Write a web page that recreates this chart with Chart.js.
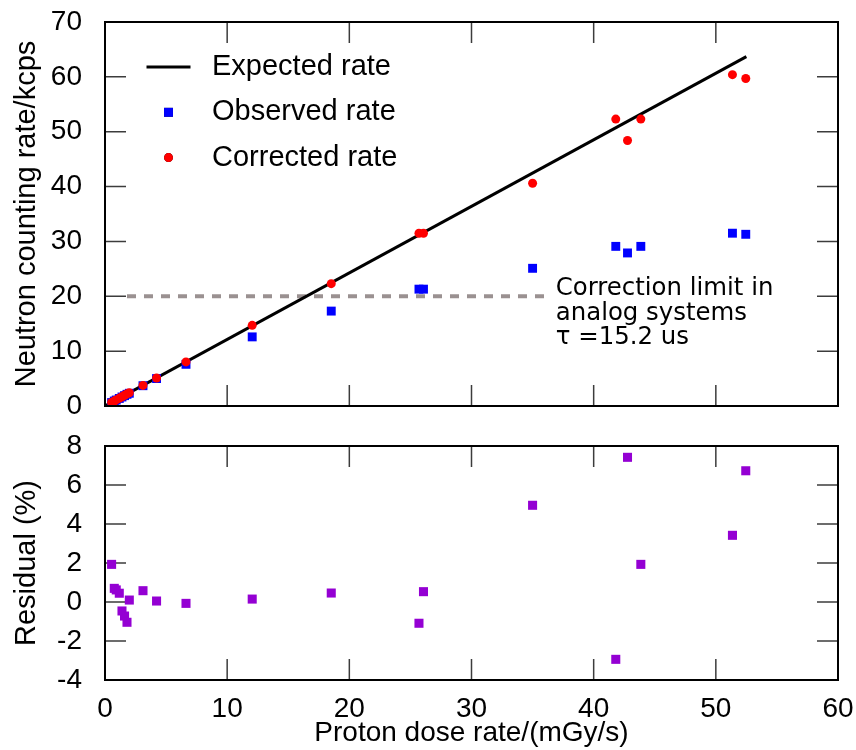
<!DOCTYPE html>
<html>
<head>
<meta charset="utf-8">
<script src="https://cdn.jsdelivr.net/npm/chart.js@4.4.1/dist/chart.umd.min.js"></script>
<style>
body { margin: 0; background: #fff; }
#wrap { position: relative; width: 856px; height: 750px; }
#wrap canvas { position: absolute; left: 0; top: 0; }
</style>
</head>
<body>
<div id="wrap">
  <canvas id="residual" width="856" height="750"></canvas>
  <canvas id="rate" width="856" height="750"></canvas>
</div>
<script>
// values
var doseRate      = [0.54, 0.76, 0.92, 1.17, 1.39, 1.60, 1.80, 1.99, 3.11, 4.22, 6.63, 12.05, 18.52, 25.70, 26.07, 35.0, 41.81, 42.77, 43.86, 51.36, 52.45];
var observedRate  = [0.63, 0.90, 1.09, 1.38, 1.64, 1.89, 2.13, 2.32, 3.7, 5.0, 7.6, 12.6, 17.3, 21.3, 21.3, 25.1, 29.1, 27.9, 29.1, 31.5, 31.3];
var correctedRate = [0.64, 0.91, 1.11, 1.41, 1.69, 1.95, 2.20, 2.41, 3.75, 5.11, 8.04, 14.7, 22.3, 31.5, 31.5, 40.6, 52.3, 48.4, 52.3, 60.4, 59.7];
var residual      = [1.93, 0.70, 0.62, 0.45, -0.46, -0.72, -1.04, 0.10, 0.58, 0.05, -0.07, 0.15, 0.46, -1.09, 0.53, 4.96, -2.94, 7.42, 1.93, 3.42, 6.73];

var expectedX = [0, 52.5];
var expectedY = [0, 63.7];
var limitX = [1.8, 36.2];
var limitY = [20, 20];

var noteLines = ['Correction limit in', 'analog systems', '\u03c4 =15.2 us'];

var axisFont = { family: 'Liberation Sans', size: 28 };
var titleFont = { family: 'Liberation Sans', size: 29 };

function pts(xs, ys) {
    return xs.map(function (x, i) { return { x: x, y: ys[i] }; });
}

// gnuplot style: inward ticks on all four sides
var inTicks = {
    id: 'inTicks',
    beforeDatasetsDraw: function (chart) {
        var a = chart.chartArea, c = chart.ctx;
        var sx = chart.scales.x, sy = chart.scales.y;
        c.save();
        c.strokeStyle = '#3c3c3c';
        c.lineWidth = 1.5;
        c.beginPath();
        sx.ticks.forEach(function (t) {
            var px = sx.getPixelForValue(t.value);
            c.moveTo(px, a.bottom); c.lineTo(px, a.bottom - 21);
            c.moveTo(px, a.top); c.lineTo(px, a.top + 21);
        });
        sy.ticks.forEach(function (t) {
            var py = sy.getPixelForValue(t.value);
            c.moveTo(a.left, py); c.lineTo(a.left + 21, py);
            c.moveTo(a.right, py); c.lineTo(a.right - 21, py);
        });
        c.stroke();
        c.restore();
    },
    afterDraw: function (chart) {
        var a = chart.chartArea, c = chart.ctx;
        c.save();
        c.strokeStyle = '#000';
        c.lineWidth = 2;
        c.strokeRect(a.left, a.top, a.right - a.left, a.bottom - a.top);
        c.restore();
    }
};

var keyBox = {
    id: 'keyBox',
    afterDraw: function (chart) {
        var a = chart.chartArea, c = chart.ctx;
        c.save();
        c.font = '29px "Liberation Sans"';
        c.textBaseline = 'middle';
        c.fillStyle = '#000';
        for (var i = 0; i < 3; i++) {
            var ds = chart.data.datasets[i];
            var cy = a.top + 45 + i * 45.3;
            var cx = a.left + 63.5;
            if (ds.showLine) {
                c.strokeStyle = ds.borderColor;
                c.lineWidth = ds.borderWidth;
                c.beginPath(); c.moveTo(cx - 22, cy); c.lineTo(cx + 22, cy); c.stroke();
            } else {
                Chart.helpers.drawPoint(c, {
                    pointStyle: ds.pointStyle, radius: ds.pointRadius,
                    borderWidth: 0, rotation: 0
                }, cx, cy);
                c.fillStyle = ds.backgroundColor;
                c.fill();
            }
            c.fillStyle = '#000';
            c.fillText(ds.label, a.left + 107, cy);
        }
        // note next to the dashed limit line
        var sx = chart.scales.x, sy = chart.scales.y;
        var nx = sx.getPixelForValue(36.9), ny = sy.getPixelForValue(20);
        c.font = '24.4px "DejaVu Sans"';
        c.textBaseline = 'alphabetic';
        noteLines.forEach(function (s, k) {
            c.fillText(s, nx, ny - 1 + k * 24.3);
        });
        c.restore();
    }
};

var rateChart = new Chart(document.getElementById('rate'), {
    type: 'scatter',
    data: {
        datasets: [{
            label: 'Expected rate',
            data: pts(expectedX, expectedY),
            showLine: true,
            borderColor: '#000',
            borderWidth: 3,
            pointRadius: 0,
            order: 2
        }, {
            label: 'Observed rate',
            data: pts(doseRate, observedRate),
            pointStyle: 'rect',
            pointRadius: 6.3,
            pointBorderWidth: 0,
            backgroundColor: '#0000ff',
            order: 1
        }, {
            label: 'Corrected rate',
            data: pts(doseRate, correctedRate),
            pointStyle: 'circle',
            pointRadius: 4.5,
            pointBorderWidth: 0,
            backgroundColor: '#ff0000',
            order: 0
        }, {
            label: '',
            data: pts(limitX, limitY),
            showLine: true,
            borderColor: '#9a9191',
            borderWidth: 4,
            borderDash: [9, 8],
            pointRadius: 0,
            order: 3
        }]
    },
    options: {
        responsive: false,
        animation: false,
        devicePixelRatio: 1,
        layout: { padding: { top: 22, right: 18, left: 0, bottom: 0 } },
        plugins: { legend: { display: false }, tooltip: { enabled: false } },
        scales: {
            x: {
                type: 'linear', min: 0, max: 60,
                ticks: { stepSize: 10, display: false, padding: 0 },
                grid: { display: false, drawTicks: false },
                border: { display: false },
                afterFit: function (s) { s.height = 344; }
            },
            y: {
                min: 0, max: 70,
                ticks: { stepSize: 10, padding: 0, color: '#000', font: axisFont },
                grid: { display: false, drawTicks: true, tickLength: 23 },
                border: { display: false },
                title: { display: true, text: 'Neutron counting rate/kcps', color: '#000', font: titleFont, padding: { top: 10, bottom: 10 } },
                afterFit: function (s) { s.width = 105; }
            }
        }
    },
    plugins: [inTicks, keyBox]
});

var residualChart = new Chart(document.getElementById('residual'), {
    type: 'scatter',
    data: {
        datasets: [{
            label: 'Residual',
            data: pts(doseRate, residual),
            pointStyle: 'rect',
            pointRadius: 6.4,
            pointBorderWidth: 0,
            backgroundColor: '#9400d3'
        }]
    },
    options: {
        responsive: false,
        animation: false,
        devicePixelRatio: 1,
        layout: { padding: { top: 446, right: 18, left: 0, bottom: 0 } },
        plugins: { legend: { display: false }, tooltip: { enabled: false } },
        scales: {
            x: {
                type: 'linear', min: 0, max: 60,
                ticks: { stepSize: 10, padding: 0, color: '#000', font: axisFont },
                grid: { display: false, drawTicks: true, tickLength: 12 },
                border: { display: false },
                title: { display: true, text: 'Proton dose rate/(mGy/s)', color: '#000', font: axisFont, padding: 0 },
                afterFit: function (s) { s.height = 70; }
            },
            y: {
                min: -4, max: 8,
                ticks: { stepSize: 2, padding: 0, color: '#000', font: axisFont },
                grid: { display: false, drawTicks: true, tickLength: 23 },
                border: { display: false },
                title: { display: true, text: 'Residual (%)', color: '#000', font: titleFont, padding: { top: 10, bottom: 10 } },
                afterFit: function (s) { s.width = 105; }
            }
        }
    },
    plugins: [inTicks]
});
</script>
</body>
</html>
